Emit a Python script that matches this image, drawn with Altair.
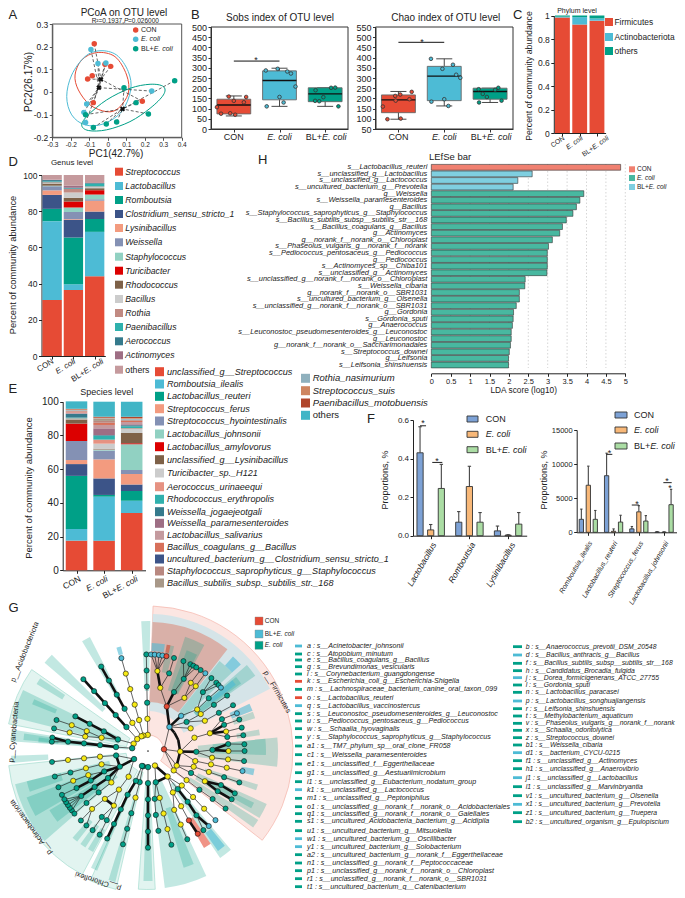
import math
import altair as alt
import pandas as pd

W, H = 669, 882
FONT = "Liberation Sans"
RED, BLUE, GREEN = "#E64B35", "#4DBBD5", "#00A087"
GROUPS = ["CON", "E. coli", "BL+E. coli"]
GROUP_COL = [RED, BLUE, GREEN]

# ---------- A: PCoA ----------
a_con = [(-.073, .213), (-.015, .122), (.016, .113), (-.084, .072), (-.109, .057), (-.078, -.047), (.187, -.041)]
a_eco = [(-.091, .188), (-.053, .126), (-.01, .128), (.238, .004), (-.114, -.053), (-.129, -.09), (-.12, -.135)]
a_bl = [(.362, .05), (.088, .019), (.153, -.047), (.22, -.097), (.048, -.132), (-.008, -.141), (-.078, -.157), (-.12, -.1)]
a_centroids = [(-.037, .056), (-.048, .019), (.08, -.075)]
a_ell_con = [(-.177, .075), (-.141, .141), (-.06, .174), (.039, .156), (.102, .075), (.111, -.006), (.057, -.072), (-.006, -.087), (-.096, -.057), (-.159, .009)]
a_ell_eco = [(-.222, -.02), (-.195, .075), (-.123, .156), (-.042, .182), (.048, .163), (.111, .09), (.124, .009), (.075, -.087), (-.024, -.141), (-.123, -.145), (-.195, -.101)]
a_ell_bl = [(-.141, -.145), (-.105, -.101), (-.006, -.035), (.12, .016), (.229, .034), (.301, .024), (.301, -.013), (.229, -.072), (.12, -.131), (-.006, -.167), (-.105, -.17)]
a_legend_pts = [(.151, .274), (.151, .233), (.151, .191)]

# ---------- B: boxes (q1, median, q3, whisker low, whisker high) ----------
sobs_box = [(74, 118, 146, 64, 162), (143, 238, 285, 111, 298), (134, 172, 202, 111, 202)]
sobs_pts = [(.13, 107), (.22, 75), (.39, 159), (.50, 138), (.42, 77), (.53, 70), (.72, 131), (.77, 157),
            (1.2, 287), (1.46, 295), (1.67, 282), (1.75, 272), (1.85, 208), (1.5, 157), (1.59, 130), (1.22, 111),
            (2.29, 190), (2.28, 138), (2.37, 136), (2.46, 156), (2.63, 202), (2.72, 203), (2.79, 111)]
chao_box = [(130, 193, 217, 98, 234), (189, 309, 357, 163, 394), (196, 234, 250, 180, 250)]
chao_pts = [(.26, 98), (.55, 101), (.16, 160), (.44, 189), (.43, 212), (.54, 219), (.74, 196), (.79, 232),
            (1.21, 394), (1.46, 345), (1.69, 365), (1.76, 316), (1.85, 301), (1.5, 196), (1.22, 184), (1.59, 163),
            (2.68, 252), (2.61, 242), (2.25, 245), (2.34, 222), (2.43, 207), (2.75, 189), (2.26, 180)]

# ---------- C ----------
phylum_names = ["Firmicutes", "Actinobacteriota", "others"]
phylum_vals = [[.983, .923, .956], [.007, .063, .019], [.01, .014, .025]]
phylum_cols = [RED, BLUE, GREEN]

# ---------- D ----------
genus_names = ["Streptococcus", "Lactobacillus", "Romboutsia", "Clostridium_sensu_stricto_1", "Lysinibacillus", "Weissella",
               "Staphylococcus", "Turicibacter", "Rhodococcus", "Bacillus", "Rothia", "Paenibacillus", "Aerococcus", "Actinomyces", "others"]
genus_cols = [RED, BLUE, GREEN, "#3C5488", "#F39B7F", "#8491B4", "#91D1C2", "#DC0000", "#7E6148", "#cccccc", "#c18a82", "#2fb1ad", "#357a8c", "#9e6e84", "#c59a9d"]
genus_vals = [[31, 36.4, 44.1], [43.5, 3.3, 24.5], [6.8, 25.8, 7.1], [7.7, 9.7, 4.1], [2.5, .3, 6], [2.3, 4, .8], [.3, 2.5, 2.6], [0, 3.3, 2.4],
              [1.2, 2.2, 1.1], [.3, 2.9, .7], [.4, 1.9, .3], [.5, .3, 1.5], [.7, .3, .4], [.2, 1.1, 0], [2.6, 6, 4.4]]

# ---------- E (stack order) ----------
species_stack = ["unclassified_g__Streptococcus", "Romboutsia_ilealis", "Lactobacillus_reuteri", "uncultured_bacterium_g__Clostridium_sensu_stricto_1",
                 "Streptococcus_ferus", "Streptococcus_hyointestinalis", "Lactobacillus_johnsonii", "Lactobacillus_amylovorus", "unclassified_g__Lysinibacillus",
                 "Turicibacter_sp._H121", "Aerococcus_urinaeequi", "Rhodococcus_erythropolis", "Weissella_jogaejeotgali", "Weissella_paramesenteroides",
                 "Lactobacillus_salivarius", "Bacillus_coagulans_g__Bacillus", "Staphylococcus_saprophyticus_g__Staphylococcus", "Bacillus_subtilis_subsp._subtilis_str._168",
                 "Rothia_nasimurium", "Streptococcus_suis", "Paenibacillus_motobuensis", "others"]
species_cols = [RED, BLUE, GREEN, "#3C5488", "#F39B7F", "#8491B4", "#91D1C2", "#DC0000", "#7E6148", "#cccccc", "#e69282", "#30b0ad", "#357a8c", "#9e6e84",
                "#c49a9e", "#d7705a", "#b98880", "#a89888", "#8fb0bd", "#ce8560", "#b0452a", "#41b5c6"]
species_vals = [[17.6, 17.6, 34], [6.9, 26.1, 7.2], [31.5, 1, 5.8], [7, 9.8, 3.9], [2.4, 11.3, 6.2], [11.3, 5.2, 2.4], [0, .7, 15.2], [10.3, .1, .6], [2.5, .3, 6.1],
                [.3, 3, 2.4], [.3, 2.4, .5], [.5, 2.3, 1.2], [2.2, .4, .6], [.3, 4, .5], [.5, 2, 1.4], [.6, 1.3, .6], [.3, 1.1, .4], [.3, 1.2, .3], [.3, .3, .6], [.4, .4, .4], [.3, .6, .8], [4.4, 8.9, 8.9]]
species_legend_left = species_stack[:3] + species_stack[4:16] + species_stack[3:4] + species_stack[16:18]
species_legend_right = species_stack[18:]

# ---------- F ----------
f1_names = ["Lactobacillus", "Romboutsia", "Lysinibacillus"]
f1_vals = [[.43, .07, .025], [.03, .255, .003], [.245, .07, .06]]
f1_errs = [[.565, .125, .05], [.058, .36, .005], [.37, .12, .12]]
f2_names = ["Romboutsia_ilealis", "Lactobacillus_reuteri", "Streptococcus_ferus", "Lactobacillus_johnsonii"]
f2_vals = [[1900, 8300, 500, 50], [6900, 150, 3000, 20], [1900, 1500, 1650, 4050]]
f2_errs = [[3400, 11600, 850, 80], [9700, 500, 3900, 60], [3200, 2500, 2450, 6300]]
F_COLS = ["#7DA2D6", "#F8B878", "#ABDDA4"]

# ---------- H ----------
lefse_labels = ["s__Lactobacillus_reuteri", "s__unclassified_g__Lactobacillus", "s__unclassified_g__Lactococcus", "s__uncultured_bacterium_g__Prevotella",
                "g__Weissella", "s__Weissella_paramesenteroides", "g__Bacillus", "s__Staphylococcus_saprophyticus_g__Staphylococcus",
                "s__Bacillus_subtilis_subsp__subtilis_str__168", "s__Bacillus_coagulans_g__Bacillus", "g__Actinomyces", "g__norank_f__norank_o__Chloroplast",
                "s__Phaseolus_vulgaris_g__norank_f__norank", "s__Pediococcus_pentosaceus_g__Pediococcus", "g__Pediococcus", "s__Actinomyces_sp__Chiba101",
                "s__unclassified_g__Actinomyces", "s__unclassified_g__norank_f__norank_o__Chloroplast", "s__Weissella_cibaria", "g__norank_f__norank_o__SBR1031",
                "s__uncultured_bacterium_g__Olsenella", "s__unclassified_g__norank_f__norank_o__SBR1031", "g__Gordonia", "s__Gordonia_sputi", "g__Anaerococcus",
                "s__Leuconostoc_pseudomesenteroides_g__Leuconostoc", "g__Leuconostoc", "g__norank_f__norank_o__Saccharimonadales", "s__Streptococcus_downei",
                "g__Leifsonia", "s__Leifsonia_shinshuensis"]
lefse_vals = [4.88, 2.60, 2.23, 2.11, 3.93, 3.83, 3.74, 3.65, 3.48, 3.38, 3.31, 3.12, 3.02, 2.99, 2.99, 2.99, 2.98, 2.42, 2.41, 2.27, 2.27, 2.19, 2.12, 2.11, 2.09, 2.06, 2.06, 2.04, 2.01, 1.99, 1.99]
lefse_group = ["CON"] + ["BL+E. coli"] * 3 + ["E. coli"] * 27

# ---------- G: cladogram (clock angle in degrees, level, colour key) ----------
CHAINS = [
 [(359,1,'y'),(359,2,'y'),(359,3,'g'),(359,4,'g'),(359,5,'g'),(359,6,'g')],
 [(343,1,'y'),(344,2,'y'),(344,3,'y'),(344,4,'y'),(344,5,'y'),(344,6,'b')],
 [(336,1,'y'),(331,2,'y'),(331,3,'g'),(331,4,'g'),(331,5,'g'),(331,6,'g')],
 [(318,1,'y'),(318,2,'g'),(318,3,'g'),(318,4,'g'),(318,5,'g'),(318,6,'g')],
 [(297,1,'y'),(291,2,'g'),(286,3,'y'),(288,4,'y'),(288.7,5,'y'),(288.7,6,'g')],
 [(286,3,'y'),(283,4,'y'),(283.3,5,'y'),(283.5,6,'g')],
 [(291,2,'g'),(294,3,'g'),(295,4,'g'),(295.5,5,'g')],
 [(280,1,'g'),(277,2,'g'),(277,3,'g'),(276.8,4,'g'),(276.6,5,'g'),(278,6,'g')],
 [(276.6,5,'g'),(275.5,6,'g')],
 [(262,2,'g'),(263.3,3,'y'),(263.5,4,'y'),(263.6,5,'y'),(263.5,6,'g')],
 [(240,1,'g'),(262,2,'g')],
 [(240,1,'g'),(241,2,'g'),(254,3,'y'),(254.5,4,'y'),(254.5,5,'g'),(254.7,6,'g')],
 [(241,2,'g'),(245,3,'g'),(248,4,'y'),(248.3,5,'y'),(248,6,'g')],
 [(245,3,'g'),(242.7,4,'g'),(242.6,5,'g'),(243,6,'g')],
 [(241,2,'g'),(236,3,'g'),(236,4,'g'),(236,5,'g'),(232,6,'g')],
 [(236,5,'g'),(234,6,'g')], [(236,5,'g'),(236,6,'g')], [(236,5,'g'),(238,6,'g')], [(236,5,'g'),(240,6,'g')],
 [(241,2,'g'),(229.4,3,'y'),(230,4,'g'),(229.8,5,'g'),(229.6,6,'g')],
 [(240,1,'g'),(217,2,'y'),(217,3,'y'),(222,4,'y'),(224,5,'y'),(224,6,'g')],
 [(224,5,'y'),(219.6,6,'g')],
 [(217,3,'y'),(212,4,'y'),(215,5,'g'),(215,6,'g')],
 [(212,4,'y'),(210.8,5,'g'),(210,6,'g')],
 [(198,1,'g'),(195,2,'g'),(195,3,'y'),(195,4,'g'),(195,5,'g'),(195,6,'g')],
 [(202,1,'g'),(202,2,'g'),(205,3,'g'),(205,4,'g'),(205,5,'g'),(205,6,'g')],
 [(180,1,'g'),(180,2,'g'),(180,3,'g'),(180,4,'g'),(180,5,'g'),(180,6,'g')],
 [(154.5,1,'y'),(142.5,2,'y'),(135.6,3,'y'),(135.6,4,'y'),(135.8,5,'y'),(135.7,6,'b')],
 [(142.5,2,'y'),(142,3,'g'),(142,4,'g'),(143,5,'g'),(141,6,'b')],
 [(143,5,'g'),(145,6,'g')],
 [(142.5,2,'y'),(149,3,'y'),(149,4,'y'),(149.5,5,'r'),(149,6,'r')],
 [(154.5,1,'y'),(166,2,'g'),(172,3,'g'),(173,4,'g'),(172.6,5,'g')],
 [(166,2,'g'),(166,3,'y'),(166,4,'y'),(166,5,'y'),(166,6,'g')],
 [(149,3,'y'),(156,4,'y'),(156,5,'y'),(156,6,'g')],
 [(84,1,'r'),(91,2,'y'),(102,3,'y'),(102,4,'y'),(102,5,'y'),(102,6,'b')],
 [(84,1,'r'),(117,2,'y'),(117,3,'g'),(118,4,'y'),(115,5,'g'),(116,6,'g')],
 [(118,4,'y'),(120,5,'g'),(120,6,'g')],
 [(117,2,'y'),(109,3,'y'),(109,4,'y'),(109,5,'g'),(109,6,'g')],
 [(84,1,'r'),(127,2,'y'),(127,3,'y'),(127,4,'g'),(126.6,5,'g'),(126.6,6,'g')],
 [(91,2,'y'),(74,3,'y'),(74,4,'y'),(66.7,5,'g'),(67,6,'b')],
 [(74,4,'y'),(71,5,'g'),(71,6,'g')], [(74,4,'y'),(76,5,'y'),(76,6,'g')], [(74,4,'y'),(80,5,'g'),(80.6,6,'g')],
 [(91,2,'y'),(91,3,'g'),(89,4,'g'),(85,5,'g'),(86,6,'g')],
 [(89,4,'g'),(90,5,'y'),(90,6,'g')],
 [(91,3,'g'),(96,4,'y'),(96,5,'y'),(96,6,'g')],
 [(84,1,'r'),(41.6,2,'b'),(22.8,3,'r'),(11,4,'y'),(6.7,5,'y'),(1.8,6,'b')],
 [(6.7,5,'y'),(4,6,'b')], [(6.7,5,'y'),(6.5,6,'b')], [(6.7,5,'y'),(8.6,6,'b')], [(6.7,5,'y'),(11,6,'r')],
 [(11,4,'y'),(15.2,5,'g'),(15.6,6,'g')],
 [(22.8,3,'r'),(23.8,4,'g'),(26.4,5,'g'),(21.5,6,'g')],
 [(26.4,5,'g'),(26,6,'g')], [(26.4,5,'g'),(28,6,'g')], [(26.4,5,'g'),(30,6,'g')],
 [(22.8,3,'r'),(34.4,4,'y'),(32.1,5,'y'),(33,6,'g')],
 [(34.4,4,'y'),(36.4,5,'y'),(36.4,6,'b')],
 [(41.6,2,'b'),(43.3,3,'b'),(49.8,4,'y'),(43,5,'g'),(41,6,'g')],
 [(43,5,'g'),(45,6,'g')], [(43,5,'g'),(47,6,'g')],
 [(49.8,4,'y'),(49,5,'g'),(49,6,'b')],
 [(41.6,2,'b'),(53,3,'g'),(55,4,'y'),(55,5,'g'),(55,6,'g')],
 [(53,3,'g'),(62,4,'y'),(61.7,5,'g'),(61.7,6,'g')],
 [(41.6,2,'b'),(62,3,'y')],
]
THICK = [
 [(41.6,2),(55,2),(70,2),(91,2)], [(41.6,2),(43.3,3)], [(41.6,2),(22.8,3)], [(22.8,3),(23.8,4)], [(11,4),(6.7,5)],
 [(91,2),(91,3)], [(91,2),(117,2)], [(89,4),(90,5)], [(89,4),(85,5)], [(74,4),(71,5)], [(74,4),(76,5)],
 [(318,3),(318,4)], [(318,4),(318,5)], [(318,5),(318,6)], [(318,2),(318,3)],
 [(331,3),(331,4)], [(331,4),(331,5)], [(331,5),(331,6)],
 [(277,2),(277,3)], [(277,3),(276.8,4)], [(276.8,4),(276.6,5)], [(276.6,5),(278,6)],
 [(240,1),(241,2)], [(241,2),(245,3)], [(245,3),(242.7,4)], [(242.7,4),(242.6,5)], [(241,2),(236,3)], [(236,3),(236,4)], [(236,4),(236,5)],
 [(241,2),(262,2)], [(212,4),(222,4)], [(288,4),(283,4)], [(291,2),(294,3)], [(294,3),(295,4)], [(295,4),(295.5,5)],
 [(180,2),(180,3)], [(180,3),(180,4)], [(180,4),(180,5)], [(180,5),(180,6)], [(202,2),(205,3)], [(205,3),(205,4)], [(205,4),(205,5)], [(205,5),(205,6)],
 [(154.5,1),(142.5,2)], [(166,2),(142.5,2)], [(118,4),(115,5)], [(118,4),(120,5)], [(115,5),(116,6)], [(120,5),(120,6)],
 [(142,3),(142,4)], [(142,4),(143,5)], [(143,5),(141,6)], [(149.5,5),(149,6)],
]
SEC_PINK = [(2, 128, 16, 145)]
SEC_GREY = [(2, 63, 40, 137)]
SEC_RED = [(2, 38, 49, 129)]
SEC_PALE = [(281, 305, 22, 142), (208, 264, 22, 140), (193, 204, 22, 142), (177, 184, 30, 138.5)]
SEC_GREEN = [(155, 173, 32, 138), (18, 28, 64, 120), (21, 27, 64, 108), (10, 14, 80, 108), (38.5, 47, 50, 115), (49, 55, 60, 131), (50, 54, 60, 115),
             (84, 97, 50, 130), (84, 92, 65, 118), (107, 110, 60, 115), (114, 121, 55, 130), (116, 119, 70, 118), (122, 126, 50, 130), (69.5, 73, 90, 112), (79, 82, 90, 113),
             (140, 146, 40, 129), (158, 163, 60, 122), (178, 182, 30, 130), (179, 181.5, 30, 100),
             (229, 256, 40, 137), (240, 249, 60, 130), (251, 256, 90, 125), (232, 239, 60, 115), (218, 221, 90, 115), (213, 216, 90, 115), (208.5, 211.5, 90, 115),
             (265, 268, 100, 137), (203, 206, 50, 130), (194, 197, 50, 135), (274, 279, 20, 138), (275, 278, 60, 125), (274.5, 277, 90, 110),
             (284, 296, 30, 139), (301, 304, 100, 130), (292, 294.5, 100, 125), (310.5, 315, 60, 136), (329, 333, 60, 128), (357, 361, 60, 130)]
SEC_BLUE = [(42, 47, 115, 127), (65, 69, 90, 112), (50, 53, 80, 110), (141, 145, 100, 122), (2, 9, 100, 108), (343, 345.5, 100, 108), (99.5, 103, 95, 108)]
SEC_REDLEAF = [(10, 12, 100, 108), (146, 150, 80, 112)]

G_left = [("a","s__Acinetobacter_johnsonii"),("c","s__Atopobium_minutum"),("e","s__Bacillus_coagulans_g__Bacillus"),("g","s__Brevundimonas_vesicularis"),
 ("i","s__Corynebacterium_guangdongense"),("k","s__Escherichia_coli_g__Escherichia-Shigella"),("m","s__Lachnospiraceae_bacterium_canine_oral_taxon_099"),
 ("o","s__Lactobacillus_reuteri"),("q","s__Lactobacillus_vaccinostercus"),("s","s__Leuconostoc_pseudomesenteroides_g__Leuconostoc"),("u","s__Pediococcus_pentosaceus_g__Pediococcus"),
 ("w","s__Schaalia_hyovaginalis"),("y","s__Staphylococcus_saprophyticus_g__Staphylococcus"),("a1","s__TM7_phylum_sp__oral_clone_FR058"),("c1","s__Weissella_paramesenteroides"),
 ("e1","s__unclassified_f__Eggerthellaceae"),("g1","s__unclassified_g__Aestuariimicrobium"),("i1","s__unclassified_g__Eubacterium_nodatum_group"),("k1","s__unclassified_g__Lactococcus"),
 ("m1","s__unclassified_g__Peptoniphilus"),("o1","s__unclassified_g__norank_f__norank_o__Acidobacteriales"),("q1","s__unclassified_g__norank_f__norank_o__Gaiellales"),
 ("s1","s__uncultured_Acidobacteria_bacterium_g__Acidipila"),("u1","s__uncultured_bacterium_g__Mitsuokella"),("w1","s__uncultured_bacterium_g__Oscillibacter"),
 ("y1","s__uncultured_bacterium_g__Solobacterium"),("a2","s__uncultured_bacterium_g__norank_f__Eggerthellaceae"),("n1","s__unclassified_g__norank_f__Peptococcaceae"),
 ("p1","s__unclassified_g__norank_f__norank_o__Chloroplast"),("r1","s__unclassified_g__norank_f__norank_o__SBR1031"),("t1","s__uncultured_bacterium_g__Catenibacterium")]
G_left_y = [18,42,60,80,102,124,148,173,197,221,243,266,292,318,344,372,398,425,449,475,500,521,544,572,596,620,644,669,692,716,740]
G_right = [("b","s__Anaerococcus_prevotii_DSM_20548"),("d","s__Bacillus_anthracis_g__Bacillus"),("f","s__Bacillus_subtilis_subsp__subtilis_str__168"),("h","s__Candidatus_Brocadia_fulgida"),
 ("j","s__Dorea_formicigenerans_ATCC_27755"),("l","s__Gordonia_sputi"),("n","s__Lactobacillus_paracasei"),("p","s__Lactobacillus_songhuajiangensis"),("r","s__Leifsonia_shinshuensis"),
 ("t","s__Methylobacterium_aquaticum"),("v","s__Phaseolus_vulgaris_g__norank_f__norank"),("x","s__Schaalia_odontolytica"),("z","s__Streptococcus_downei"),("b1","s__Weissella_cibaria"),
 ("d1","s__bacterium_CYCU-0215"),("f1","s__unclassified_g__Actinomyces"),("h1","s__unclassified_g__Anaerovibrio"),("j1","s__unclassified_g__Lactobacillus"),("l1","s__unclassified_g__Marvinbryantia"),
 ("v1","s__uncultured_bacterium_g__Olsenella"),("x1","s__uncultured_bacterium_g__Prevotella"),("z1","s__uncultured_bacterium_g__Truepera"),("b2","s__uncultured_organism_g__Epulopiscium")]
G_right_y = [20,45,70,92,113,135,157,183,206,228,250,271,293,315,338,362,386,413,440,467,493,518,545]
G_blue = {"a","q","k1","w1","y1","d","j","p","d1","j1","x1"}
G_red = {"k","o"}

layers = []
ONE = pd.DataFrame({"k": [0]})


def px(v):
    return v - 8


def T(text, x, y, size=8, italic=False, align="center", angle=0, color="#222", baseline="middle"):
    kw = dict(align=align, baseline=baseline, fontSize=size, font=FONT, color=color)
    if italic:
        kw["fontStyle"] = "italic"
    if angle:
        kw["angle"] = angle
    layers.append(alt.Chart(pd.DataFrame({"t": [text]})).mark_text(**kw).encode(
        text="t:N", x=alt.value(px(x)), y=alt.value(px(y))))


def rich(x, y, size, align="center"):
    """BL+E. coli with a roman prefix and an italic name."""
    a, b = 1.807 * size, 2.72 * size
    j = x - (a + b) / 2 + a if align == "center" else (x + a if align == "left" else x - b)
    T("BL+", j, y, size, align="right")
    T("E. coli", j, y, size, italic=True, align="left")


def rich_rot(x, y, size, deg):
    """Right-aligned rotated BL+E. coli ending at (x, y); deg = rise angle."""
    T("E. coli", x, y, size, italic=True, align="right", angle=360 - deg)
    w = 2.72 * size
    T("BL+", x - w * math.cos(math.radians(deg)), y + w * math.sin(math.radians(deg)), size, align="right", angle=360 - deg)


def group_ticks_rot(xs_, ys_, size, deg):
    T("CON", xs_[0], ys_, size, align="right", angle=360 - deg)
    T("E. coli", xs_[1], ys_, size, italic=True, align="right", angle=360 - deg)
    rich_rot(xs_[2], ys_, size, deg)


def frame(x0, y0, x1, y1, color="#555", sw=1):
    layers.append(alt.Chart(ONE).mark_rect(fillOpacity=0, stroke=color, strokeWidth=sw).encode(
        x=alt.value(px(x0)), x2=alt.value(px(x1)), y=alt.value(px(y0)), y2=alt.value(px(y1))))


def scale(d0, d1, r0, r1):
    return alt.Scale(domain=[d0, d1], range=[px(r0), px(r1)], nice=False, zero=False)


def xaxis(y, values, size=7, labels=True, color="#222", fmt="~g", tick=3):
    kw = dict(orient="bottom", offset=px(y) - H, values=values, title=None, grid=False, labels=labels, tickSize=tick,
              domainColor=color, tickColor=color, labelFont=FONT, labelFontSize=size, labelColor="#222", labelFlush=False,
              labelOverlap=False, labelPadding=1.5, domainWidth=1)
    if labels:
        kw["labelExpr"] = "replace(format(datum.value,'%s'),'\u2212','-')" % fmt
    return alt.Axis(**kw)


def yaxis(x, values, size=8, color="#222", fmt="~g", tick=3):
    return alt.Axis(orient="left", offset=-px(x), values=values, title=None, grid=False, tickSize=tick,
                    domainColor=color, tickColor=color, labelFont=FONT, labelFontSize=size, labelColor="#222", labelFlush=False,
                    labelOverlap=False, labelPadding=1.5, domainWidth=1,
                    labelExpr="replace(format(datum.value,'%s'),'\u2212','-')" % fmt)


def dots(table, xs_, ys_, color, size, sw=0, stroke="#333"):
    layers.append(alt.Chart(table).mark_circle(opacity=1, size=size, color=color, stroke=stroke, strokeWidth=sw).encode(
        x=alt.X("x:Q", scale=xs_, axis=None), y=alt.Y("y:Q", scale=ys_, axis=None)))


# ------ A ------
A_x = scale(-.3, .4, 52.3, 181.7)
A_y = scale(-.2, .3, 137.3, 24)
layers.append(alt.Chart(ONE.assign(x=0., y=0.)).mark_point(opacity=0).encode(
    x=alt.X("x:Q", scale=A_x, axis=xaxis(137.3, [-.3, -.2, -.1, 0, .1, .2, .3, .4], 6.5, color="#555")),
    y=alt.Y("y:Q", scale=A_y, axis=yaxis(52.3, [-.2, -.1, 0, .1, .2, .3], 8.5, color="#555"))))
frame(52.3, 24, 181.7, 137.3)
for ell, col in zip([a_ell_con, a_ell_eco, a_ell_bl], GROUP_COL):
    t = pd.DataFrame(ell, columns=["x", "y"]).assign(i=range(len(ell)))
    layers.append(alt.Chart(t).mark_line(interpolate="cardinal-closed", color=col, strokeWidth=1).encode(
        x=alt.X("x:Q", scale=A_x, axis=None), y=alt.Y("y:Q", scale=A_y, axis=None), order="i:Q"))
for pts, c, col in zip([a_con, a_eco, a_bl], a_centroids, GROUP_COL):
    t = pd.DataFrame(pts, columns=["x", "y"]).assign(cx=c[0], cy=c[1])
    layers.append(alt.Chart(t).mark_rule(color="#222", strokeWidth=.7, strokeDash=[3, 2]).encode(
        x=alt.X("x:Q", scale=A_x, axis=None), y=alt.Y("y:Q", scale=A_y, axis=None), x2="cx:Q", y2="cy:Q"))
for pts, col in zip([a_con, a_eco, a_bl], GROUP_COL):
    dots(pd.DataFrame(pts, columns=["x", "y"]), A_x, A_y, col, 30)
layers.append(alt.Chart(pd.DataFrame(a_centroids, columns=["x", "y"])).mark_point(shape="cross", filled=True, size=28, angle=45, color="#111", opacity=1).encode(
    x=alt.X("x:Q", scale=A_x, axis=None), y=alt.Y("y:Q", scale=A_y, axis=None)))
T("PCoA on OTU level", 124, 13.2, 10)
T("R\u00b2=0.1937, ", 124, 20.6, 6.5, align="right")
T("P", 124, 20.6, 6.5, italic=True, align="left")
T("=0.026000", 128, 20.6, 6.5, align="left")
T("PC2(26.17%)", 28.7, 82, 10, angle=270)
T("PC1(42.7%)", 116, 154, 10)
for p, col in zip(a_legend_pts, GROUP_COL):
    dots(pd.DataFrame([p], columns=["x", "y"]), A_x, A_y, col, 30)
T("CON", 141, 30, 7, align="left")
T("E. coli", 141, 39.3, 7, italic=True, align="left")
rich(141, 48.7, 7, align="left")


# ------ B ------
def boxes(x0, x1, d0, d1, ticks, box, pts, sigy):
    xs_ = scale(0, 3, x0, x1)
    ys_ = scale(d0, d1, 129, 27)
    layers.append(alt.Chart(ONE.assign(x=1., y=float(d0))).mark_point(opacity=0).encode(
        x=alt.X("x:Q", scale=xs_, axis=xaxis(129, [.5, 1.5, 2.5], labels=False, color="#333")),
        y=alt.Y("y:Q", scale=ys_, axis=yaxis(x0, ticks, 9, color="#333"))))
    frame(x0, 27, x1, 129, "#333")
    for i, (b, col) in enumerate(zip(box, GROUP_COL)):
        c = i + .5
        t = pd.DataFrame({"c": [c], "l": [c - .37], "r": [c + .37], "cl": [c - .175], "cr": [c + .175],
                          "q1": [b[0]], "m": [b[1]], "q3": [b[2]], "lo": [b[3]], "hi": [b[4]]})
        base = alt.Chart(t)
        layers.append(base.mark_rule(color="#333", strokeWidth=.9).encode(x=alt.X("c:Q", scale=xs_, axis=None), y=alt.Y("lo:Q", scale=ys_, axis=None), y2="hi:Q"))
        for e in ["lo", "hi"]:
            layers.append(base.mark_rule(color="#333", strokeWidth=.9).encode(x=alt.X("cl:Q", scale=xs_, axis=None), x2="cr:Q", y=alt.Y(e + ":Q", scale=ys_, axis=None)))
        layers.append(base.mark_rect(color=col, stroke="#666", strokeWidth=.9).encode(x=alt.X("l:Q", scale=xs_, axis=None), x2="r:Q", y=alt.Y("q1:Q", scale=ys_, axis=None), y2="q3:Q"))
        layers.append(base.mark_rule(color="#111", strokeWidth=1.4).encode(x=alt.X("l:Q", scale=xs_, axis=None), x2="r:Q", y=alt.Y("m:Q", scale=ys_, axis=None)))
        sub = [p for p in pts if i <= p[0] < i + 1]
        dots(pd.DataFrame(sub, columns=["x", "y"]), xs_, ys_, col, 13, .8)
    t = pd.DataFrame({"a": [.5], "b": [1.5], "y": [sigy]})
    layers.append(alt.Chart(t).mark_rule(color="#111", strokeWidth=1).encode(x=alt.X("a:Q", scale=xs_, axis=None), x2="b:Q", y=alt.Y("y:Q", scale=ys_, axis=None)))
    step = (x1 - x0) / 3
    T("CON", x0 + .5 * step, 137, 9)
    T("E. coli", x0 + 1.5 * step, 136.5, 9, italic=True)
    rich(x0 + 2.5 * step + 1, 137, 9)


boxes(211, 348, 0, 500, list(range(0, 501, 50)), sobs_box, sobs_pts, 333)
boxes(375.5, 513, 50, 550, list(range(50, 551, 50)), chao_box, chao_pts, 475)
T("*", 256, 60, 9)
T("*", 422, 41.5, 9)
T("Sobs index of OTU level", 280, 18, 10)
T("Chao index of OTU level", 445.7, 18, 10)


# ------ stacked ------
def stack(names, colors, vals, x0, x1, ytop, ybot, half, ymax, yvals, size, fmt="~g"):
    rows = []
    for j in range(3):
        c = 0
        for n, v in zip(names, vals):
            rows.append({"n": n, "l": j + .5 - half, "r": j + .5 + half, "y0": c, "y1": c + v[j]})
            c += v[j]
    t = pd.DataFrame(rows)
    xs_ = scale(0, 3, x0, x1)
    ys_ = scale(0, ymax, ybot, ytop)
    layers.append(alt.Chart(t).mark_rect().encode(
        x=alt.X("l:Q", scale=xs_, axis=xaxis(ybot, [.5, 1.5, 2.5], labels=False)), x2="r:Q",
        y=alt.Y("y0:Q", scale=ys_, axis=yaxis(x0, yvals, size, fmt=fmt)), y2="y1:Q",
        color=alt.Color("n:N", scale=alt.Scale(domain=names, range=colors), legend=None)))


def legend(names, colors, x0, x1, y_list, h, xt, size, italic=True):
    for n, col, yy in zip(names, colors, y_list):
        layers.append(alt.Chart(ONE).mark_rect(color=col).encode(
            x=alt.value(px(x0)), x2=alt.value(px(x1)), y=alt.value(px(yy - h / 2)), y2=alt.value(px(yy + h / 2))))
        T(n, xt, yy, size, italic=italic and n != "others", align="left")


# C
stack(phylum_names, phylum_cols, phylum_vals, 553.8, 605.6, 15.5, 133, .43, 1, [0, .2, .4, .6, .8, 1], 8.5)
T("Phylum level", 577, 11, 7)
T("Percent of community abundance", 529, 76, 8.7, angle=270)
group_ticks_rot([564, 582, 608], 137.5, 6.8, 35)
legend(phylum_names, phylum_cols, 605, 613, [22, 37, 51], 8, 614.5, 8.4, italic=False)

# D
stack(genus_names, genus_cols, genus_vals, 41.5, 105.3, 175, 356, .455, 100, [0, 20, 40, 60, 80, 100], 8.5)
T("Genus level", 72, 163, 8)
T("Percent of community abundance", 13, 265, 9.3, angle=270)
group_ticks_rot([53, 75, 103], 361, 8, 32)
legend(genus_names, genus_cols, 115, 123, [171.7, 186, 200, 214, 228, 242.3, 256.7, 270.7, 284.7, 299, 313, 327, 341.3, 355.3, 369.7], 8, 125.3, 8.7)

# E
stack(species_stack, species_cols, species_vals, 62.7, 145.5, 401.7, 570.3, .39, 100, [0, 20, 40, 60, 80, 100], 10)
T("Species level", 106.7, 392, 9)
T("Percent of community abundance", 29, 488, 9.5, angle=270)
group_ticks_rot([80, 107, 137], 578, 8.5, 28)
col_of = dict(zip(species_stack, species_cols))
legend(species_legend_left, [col_of[n] for n in species_legend_left], 155, 164,
       [371.7, 384, 396.3, 408.7, 421, 434, 446.7, 459.7, 473, 486.7, 499.3, 511.7, 523.3, 535.3, 547.3, 559, 571, 583], 9, 167, 9.1)
legend(species_legend_right, [col_of[n] for n in species_legend_right], 301, 310, [378.3, 390.7, 403, 415.3], 9, 312.7, 9.5)


# ------ F ------
def grouped(names, vals, errs, x_d, x_r, y_d, y_r, axis_x, axis_y, ticks, tsize, fmt, half, off):
    xs_ = scale(x_d[0], x_d[1], x_r[0], x_r[1])
    ys_ = scale(y_d[0], y_d[1], y_r[0], y_r[1])
    rows = []
    for s, (v, e) in enumerate(zip(vals, errs)):
        for g, (vv, ee) in enumerate(zip(v, e)):
            c = g + (s - 1) * off
            rows.append({"s": GROUPS[s], "c": c, "cl": c - half * .55, "cr": c + half * .55, "l": c - half, "r": c + half, "v": vv, "e": ee, "z": 0})
    t = pd.DataFrame(rows)
    layers.append(alt.Chart(t).mark_rule(color="#444", strokeWidth=1.1).encode(x=alt.X("c:Q", scale=xs_, axis=None), y=alt.Y("v:Q", scale=ys_, axis=None), y2="e:Q"))
    layers.append(alt.Chart(t).mark_rule(color="#444", strokeWidth=1.1).encode(x=alt.X("cl:Q", scale=xs_, axis=None), x2="cr:Q", y=alt.Y("e:Q", scale=ys_, axis=None)))
    layers.append(alt.Chart(t).mark_rect(stroke="#333", strokeWidth=.9).encode(
        x=alt.X("l:Q", scale=xs_, axis=xaxis(axis_y, list(range(len(names))), labels=False)), x2="r:Q",
        y=alt.Y("z:Q", scale=ys_, axis=yaxis(axis_x, ticks, tsize, fmt=fmt)), y2="v:Q",
        color=alt.Color("s:N", scale=alt.Scale(domain=GROUPS, range=F_COLS), legend=None)))
    return xs_, ys_


F1x, F1y = grouped(f1_names, f1_vals, f1_errs, (-.457, 2.48), (413, 526.7), (0, .6), (535.7, 420), 413, 535.7, [0, .2, .4, .6], 8, ".1f", .08, .275)
F2x, F2y = grouped(f2_names, f2_vals, f2_errs, (-.46, 3.51), (576.7, 677), (0, 15000), (532.3, 430), 576.7, 532.3, [0, 5000, 10000, 15000], 7.5, "d", .085, .276)
sig1 = pd.DataFrame({"a": [-.275, .04], "b": [-.12, .3], "y": [.57, .38]})
sig2 = pd.DataFrame({"a": [.72, 1.72, 2.97], "b": [.95, 2.0, 3.3], "y": [11430, 4000, 7280]})
for t, X, Y in [(sig1, F1x, F1y), (sig2, F2x, F2y)]:
    layers.append(alt.Chart(t).mark_rule(color="#222", strokeWidth=1).encode(x=alt.X("a:Q", scale=X, axis=None), x2="b:Q", y=alt.Y("y:Q", scale=Y, axis=None)))
for sx, sy in [(423, 423), (437, 461), (609.5, 453), (637, 504), (667, 481), (670, 487.5)]:
    T("*", sx, sy, 9)
for n, xx in zip(f1_names, [434, 473, 513]):
    T(n, xx, 543, 8.5, italic=True, align="right", angle=300)
for n, xx in zip(f2_names, [590.7, 616, 641.7, 667]):
    T(n, xx, 542, 7, italic=True, align="right", angle=300)
T("Proportions, %", 385, 480, 9, angle=270)
T("Proportions, %", 544, 480, 9, angle=270)


def f_legend(x0, x1, ys, xt):
    for col, yy in zip(F_COLS, ys):
        layers.append(alt.Chart(ONE).mark_rect(color=col, stroke="#333", strokeWidth=.9).encode(
            x=alt.value(px(x0)), x2=alt.value(px(x1)), y=alt.value(px(yy - 3)), y2=alt.value(px(yy + 3))))
    T("CON", xt, ys[0], 9, align="left")
    T("E. coli", xt, ys[1], 9, italic=True, align="left")
    rich(xt, ys[2], 9, align="left")


f_legend(467, 478, [419, 434.3, 449.7], 485.7)
f_legend(615, 627, [415, 430, 446], 634)

# ------ H ------
Hx = scale(0, 5, 431.3, 625.3)
Hy = alt.Scale(domain=lefse_labels, range=[px(164), px(368.3)], paddingInner=.12, paddingOuter=.06)
layers.append(alt.Chart(pd.DataFrame({"v": [.5, 1, 1.5, 2, 2.5, 3, 3.5, 4, 4.5, 5]})).mark_rule(color="#ccc", strokeWidth=.8, strokeDash=[1.5, 2]).encode(
    x=alt.X("v:Q", scale=Hx, axis=None), y=alt.value(px(164)), y2=alt.value(px(368))))
t = pd.DataFrame({"l": lefse_labels, "v": lefse_vals, "g": lefse_group})
layers.append(alt.Chart(t).mark_bar(stroke="#333", strokeWidth=.6).encode(
    x=alt.X("v:Q", scale=Hx, axis=xaxis(373.3, [0, .5, 1, 1.5, 2, 2.5, 3, 3.5, 4, 4.5, 5], 7.5)),
    y=alt.Y("l:N", scale=Hy, sort=lefse_labels, axis=alt.Axis(orient="left", offset=-px(431.3), title=None, domain=False, ticks=False, grid=False,
            labelFont=FONT, labelFontSize=7.4, labelFontStyle="italic", labelColor="#222", labelPadding=4.5, labelOverlap=False, labelLimit=400)),
    color=alt.Color("g:N", scale=alt.Scale(domain=GROUPS, range=["#F08070", "#48B8A0", "#7FCFE0"]), legend=None)))
T("LEfSe bar", 450, 157, 9.5)
T("LDA score (log10)", 523.7, 390.7, 8.3)
for col, yy in zip(["#F08070", "#48B8A0", "#7FCFE0"], [169.3, 178, 187]):
    layers.append(alt.Chart(ONE).mark_rect(color=col).encode(x=alt.value(px(629)), x2=alt.value(px(635)), y=alt.value(px(yy - 3)), y2=alt.value(px(yy + 3))))
T("CON", 637, 169.3, 6.5, align="left")
T("E. coli", 637, 178, 6.5, italic=True, align="left")
rich(637, 187, 6.5, align="left")


# ------ G ------
def sectors(rows, color, opacity, stroke=None):
    t = pd.DataFrame(rows, columns=["a", "b", "r1", "r2"])
    t["a"] = t["a"] * math.pi / 180
    t["b"] = t["b"] * math.pi / 180
    kw = dict(color=color, opacity=opacity)
    if stroke:
        kw.update(stroke=stroke, strokeWidth=.7)
    layers.append(alt.Chart(t).mark_arc(**kw).encode(
        x=alt.value(px(148)), y=alt.value(px(751)),
        theta=alt.Theta("a:Q", scale=None), theta2="b:Q",
        radius=alt.Radius("r2:Q", scale=None), radius2="r1:Q"))


sectors(SEC_PINK, "#FCE6E2", 1, "#F5B5AA")
sectors(SEC_GREY, "#D5E4E8", 1)
sectors(SEC_RED, "#D9B0A8", 1)
sectors(SEC_PALE, "#E2F4F0", 1, "#A5DDD0")
sectors(SEC_GREEN, GREEN, .24)
sectors(SEC_BLUE, BLUE, .6)
sectors(SEC_REDLEAF, RED, .6)

Gx = scale(-150, 150, -2, 298)
Gy = scale(-150, 150, 601, 901)


def xy(a, l):
    r = 16.1 * l
    return r * math.sin(math.radians(a)), -r * math.cos(math.radians(a))


edge_rows, node_rows = [], {}
for ch in CHAINS:
    for (a1, l1, c1), (a2, l2, c2) in zip(ch, ch[1:]):
        x1, y1 = xy(a1, l1)
        x2, y2 = xy(a2, l2)
        edge_rows.append({"x": x1, "y": y1, "x2": x2, "y2": y2})
    for a, l, c in ch:
        x, y = xy(a, l)
        node_rows[(a, l)] = {"x": x, "y": y, "l": l, "c": c}
thick_rows = []
for ch in THICK:
    for (a1, l1), (a2, l2) in zip(ch, ch[1:]):
        x1, y1 = xy(a1, l1)
        x2, y2 = xy(a2, l2)
        thick_rows.append({"x": x1, "y": y1, "x2": x2, "y2": y2})
layers.append(alt.Chart(pd.DataFrame(edge_rows)).mark_rule(color="#222", strokeWidth=.7).encode(
    x=alt.X("x:Q", scale=Gx, axis=None), y=alt.Y("y:Q", scale=Gy, axis=None), x2="x2:Q", y2="y2:Q"))
layers.append(alt.Chart(pd.DataFrame(thick_rows)).mark_rule(color="#111", strokeWidth=2.6).encode(
    x=alt.X("x:Q", scale=Gx, axis=None), y=alt.Y("y:Q", scale=Gy, axis=None), x2="x2:Q", y2="y2:Q"))
layers.append(alt.Chart(pd.DataFrame(list(node_rows.values()))).mark_circle(opacity=1, stroke="#111", strokeWidth=.6).encode(
    x=alt.X("x:Q", scale=Gx, axis=None), y=alt.Y("y:Q", scale=Gy, axis=None),
    size=alt.Size("l:O", scale=alt.Scale(domain=[1, 2, 3, 4, 5, 6], range=[30, 26, 22, 18, 13, 9]), legend=None),
    color=alt.Color("c:N", scale=alt.Scale(domain=["y", "g", "r", "b"], range=["#F7EA15", GREEN, RED, BLUE]), legend=None)))
layers.append(alt.Chart(pd.DataFrame({"x": [0.], "y": [0.]})).mark_circle(size=3, color="#333", opacity=1).encode(
    x=alt.X("x:Q", scale=Gx, axis=None), y=alt.Y("y:Q", scale=Gy, axis=None)))
T("p__Firmicutes", 277, 692, 7.5, angle=60)
T("p__Acidobacteriota", 25, 652, 7.5, angle=292)
T("p__Cyanobacteria", 14, 732, 7.5, angle=275)
T("p__Actinobacteriota", 31, 827, 7.5, angle=234)
T("p__Chloroflexi", 98, 881, 7.5, angle=198)
for col, yy in zip([RED, BLUE, GREEN], [621, 634, 645.3]):
    layers.append(alt.Chart(ONE).mark_rect(color=col, stroke="#888", strokeWidth=.4).encode(
        x=alt.value(px(255)), x2=alt.value(px(263)), y=alt.value(px(yy - 4)), y2=alt.value(px(yy + 4))))
T("CON", 264.7, 621, 6.5, align="left")
rich(264.7, 634, 6.5, align="left")
T("E. coli", 264.7, 645.3, 6.5, italic=True, align="left")


def g_list(items, ys_zoom, x0, x1, xt, size):
    for (k, name), z in zip(items, ys_zoom):
        yy = 640 + z / 3
        col = BLUE if k in G_blue else RED if k in G_red else GREEN
        layers.append(alt.Chart(ONE).mark_rect(color=col).encode(
            x=alt.value(px(x0)), x2=alt.value(px(x1)), y=alt.value(px(yy - 1.4)), y2=alt.value(px(yy + 1.4))))
        T(f"{k} : {name}", xt, yy, size, italic=True, align="left")


g_list(G_left, G_left_y, 295, 302, 307, 7.1)
g_list(G_right, G_right_y, 513, 522, 525.7, 6.8)

# panel letters
for s, xx, yy in [("A", 8.5, 14.5), ("B", 191, 14.5), ("C", 513, 14.5), ("D", 8.5, 162), ("E", 8.5, 389), ("F", 367, 419), ("G", 8.5, 608), ("H", 258, 160)]:
    T(s, xx, yy, 13, align="left")

chart = alt.layer(*layers).resolve_scale(
    x="independent", y="independent", color="independent", size="independent"
).properties(width=W, height=H, padding=0, autosize=alt.AutoSizeParams(type="none")).configure_view(stroke=None)
chart.save("out.html", embed_options={"renderer": "svg", "actions": False})
